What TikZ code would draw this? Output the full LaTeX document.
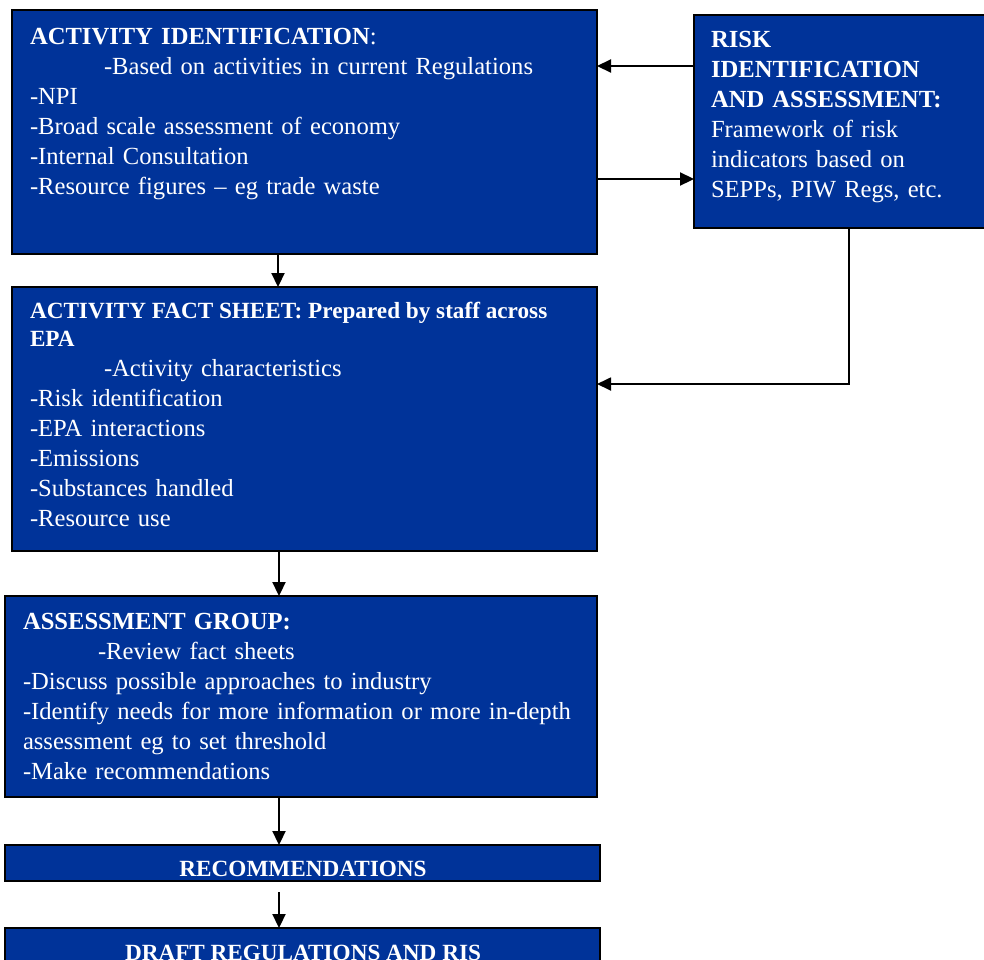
\documentclass[tikz,border=0pt]{standalone}
\usepackage{fontspec}
\setmainfont{Liberation Serif}
\usetikzlibrary{arrows.meta}
\definecolor{boxblue}{HTML}{003399}
\begin{document}
\begin{tikzpicture}[x=0.5pt,y=-0.5pt,
  box/.style={draw=black, line width=0.75pt, fill=boxblue, rectangle, inner sep=0pt, outer sep=0pt, anchor=north west},
  txt/.style={text=white, anchor=base west, inner sep=0pt, outer sep=0pt, align=left, text width=#1, font=\fontsize{12.3}{15}\selectfont},
  txt/.default=292pt,
  headtxt/.style={text=white, anchor=base west, inner sep=0pt, outer sep=0pt, font=\fontsize{11.6}{14}\selectfont\bfseries},
  ctxt/.style={text=white, anchor=base, inner sep=0pt, outer sep=0pt, font=\fontsize{11.6}{14}\selectfont\bfseries},
  arr/.style={line width=1.1pt, -{Triangle[length=7pt,width=6.5pt]}},
  thinarr/.style={line width=0.9pt, -{Triangle[length=7pt,width=6.5pt]}}
]
\useasboundingbox (0,0) rectangle (984,959);
\clip (0,0) rectangle (984,959);

% boxes
\node[box, minimum width=292.5pt, minimum height=122pt] (act) at (12,10) {};
\node[box, minimum width=146pt, minimum height=106.5pt] (risk) at (694,15) {};
\node[box, minimum width=292.5pt, minimum height=132pt] (fact) at (12,287) {};
\node[box, minimum width=296pt, minimum height=100.5pt] (assess) at (5,596) {};
\node[box, minimum width=297.5pt, minimum height=18pt] (rec) at (5,845) {};
\node[box, minimum width=297.5pt, minimum height=40pt] (draft) at (5,928) {};

% texts
\node[txt] (acttxt) at (30,44) {\textbf{ACTIVITY IDENTIFICATION}:\\
\hspace*{37pt}-Based on activities in current Regulations\\
-NPI\\
-Broad scale assessment of economy\\
-Internal Consultation\\
-Resource figures – eg trade waste};

\node[txt=140pt] (risktxt) at (711,47) {\textbf{RISK}\\
\textbf{IDENTIFICATION}\\
\textbf{AND ASSESSMENT:}\\
Framework of risk\\
indicators based on\\
SEPPs, PIW Regs, etc.};

\node[headtxt] (facthead1) at (30,318) {ACTIVITY FACT SHEET: Prepared by staff across};
\node[headtxt] (facthead2) at (30,346) {EPA};
\node[txt] (facttxt) at (30,376) {\hspace*{37pt}-Activity characteristics\\
-Risk identification\\
-EPA interactions\\
-Emissions\\
-Substances handled\\
-Resource use};

\node[txt=292pt] (assesstxt) at (23,629) {\textbf{ASSESSMENT GROUP:}\\
\hspace*{37.5pt}-Review fact sheets\\
-Discuss possible approaches to industry\\
-Identify needs for more information or more in-depth\\
assessment eg to set threshold\\
-Make recommendations};

\node[ctxt] (rectxt) at (303,876) {RECOMMENDATIONS};
\node[ctxt] (drafttxt) at (303,960) {DRAFT REGULATIONS AND RIS};

% helper coordinates
\coordinate (ya) at (0,66);
\coordinate (yb) at (0,179);
\coordinate (yc) at (0,384);
\coordinate (xa) at (278,0);
\coordinate (xb) at (279,0);
\coordinate (xr) at (849,0);
\coordinate (recgap) at (279,892);

% connectors
\draw[arr] (risk.west |- ya) -- (act.east |- ya);
\draw[arr] (act.east |- yb) -- (risk.west |- yb);
\draw[thinarr] (risk.south -| xr) |- (fact.east |- yc);
\draw[arr] (act.south -| xa) -- (fact.north -| xa);
\draw[arr] (fact.south -| xb) -- (assess.north -| xb);
\draw[arr] (assess.south -| xb) -- (rec.north -| xb);
\draw[arr] (recgap) -- (draft.north -| recgap);
\end{tikzpicture}
\end{document}
